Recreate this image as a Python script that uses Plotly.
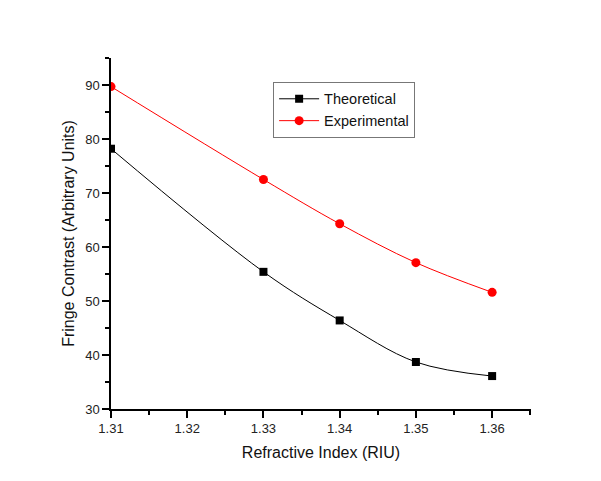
import plotly.graph_objects as go

# Refractive index of the sample (RIU)
refractive_index = [1.31, 1.33, 1.34, 1.35, 1.36]
# Fringe contrast values (arbitrary units)
theoretical = [78.2, 55.4, 46.4, 38.7, 36.1]
experimental = [89.7, 72.5, 64.3, 57.1, 51.6]

x_ticks = [1.31, 1.32, 1.33, 1.34, 1.35, 1.36]
y_ticks = [30, 40, 50, 60, 70, 80, 90]

fig = go.Figure()
fig.add_trace(go.Scatter(
    x=refractive_index, y=theoretical, name="Theoretical",
    mode="lines+markers",
    line=dict(color="black", width=1, shape="spline", smoothing=1.0),
    marker=dict(symbol="square", size=8, color="black"),
))
fig.add_trace(go.Scatter(
    x=refractive_index, y=experimental, name="Experimental",
    mode="lines+markers",
    line=dict(color="red", width=1, shape="spline", smoothing=1.0),
    marker=dict(symbol="circle", size=9, color="red"),
))

axis_font = dict(family="Arial, Liberation Sans, sans-serif", size=13, color="#222")
fig.update_layout(
    width=601, height=481,
    margin=dict(l=111, r=70, t=58, b=72),
    paper_bgcolor="white", plot_bgcolor="white",
    font=dict(family="Arial, Liberation Sans, sans-serif", color="#222"),
    showlegend=True,
    legend=dict(
        x=0.386, y=0.932, xanchor="left", yanchor="top",
        bordercolor="#777", borderwidth=1, bgcolor="white",
        font=dict(size=14.5, color="#111"),
        tracegroupgap=0, itemwidth=40,
    ),
    xaxis=dict(
        range=[1.31, 1.3651], tickvals=x_ticks,
        ticktext=[f"{v:.2f}" for v in x_ticks],
        showgrid=False, zeroline=False,
        showline=True, linecolor="black", linewidth=1.5,
        ticks="outside", ticklen=7, tickwidth=1.5, tickcolor="black",
        minor=dict(dtick=0.005, ticks="outside", ticklen=4, tickwidth=1.5, tickcolor="black"),
        tickfont=axis_font,
        title=dict(text="Refractive Index (RIU)", font=dict(size=16, color="#111"), standoff=11),
    ),
    yaxis=dict(
        range=[30, 95], tickvals=y_ticks,
        showgrid=False, zeroline=False,
        showline=True, linecolor="black", linewidth=1.5,
        ticks="outside", ticklen=7, tickwidth=1.5, tickcolor="black",
        minor=dict(dtick=5, ticks="outside", ticklen=4, tickwidth=1.5, tickcolor="black"),
        tickfont=axis_font,
        title=dict(text="Fringe Contrast (Arbitrary Units)", font=dict(size=16, color="#111"), standoff=7),
    ),
)

fig.write_html("out.html")
